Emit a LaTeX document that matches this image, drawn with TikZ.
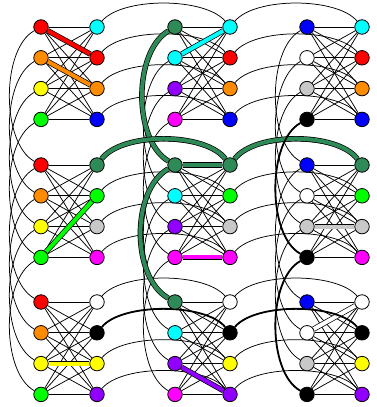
\documentclass[tikz,border=0pt]{standalone}
\pgfdeclarelayer{thinl}
\pgfdeclarelayer{thickl}
\pgfsetlayers{thinl,thickl,main}
\definecolor{dgreen}{RGB}{46,139,87}
\definecolor{myorange}{RGB}{255,140,0}
\definecolor{mypurple}{RGB}{145,0,255}
\definecolor{mygray}{RGB}{200,200,200}
\definecolor{mycyan}{RGB}{0,255,255}
\definecolor{mygreen}{RGB}{0,255,0}
\definecolor{mymagenta}{RGB}{255,0,255}
\definecolor{myred}{RGB}{255,0,0}
\definecolor{myblue}{RGB}{0,0,255}
\definecolor{myyellow}{RGB}{255,255,0}
\tikzset{
  vtx/.style={circle, draw=black, line width=0.8pt, minimum size=14.5pt, inner sep=0pt},
  thinedge/.style={line width=0.75pt, black},
  hl/.style={line width=0.7pt, draw=black, double=#1, double distance=4pt},
  blk/.style={line width=1.8pt, black},
}
\begin{document}
\begin{tikzpicture}[x=1pt,y=-1pt]
\useasboundingbox (0,0) rectangle (376,407);
\foreach \r/\by/\ra/\rb/\rc/\rd in {1/27/mycyan/myred/myorange/myblue, 2/165/dgreen/mygreen/mygray/mymagenta, 3/302/white/black/myyellow/mypurple}{
  \foreach \c/\lx/\rx/\la/\lb/\lc/\ld in {1/41/97/myred/myorange/myyellow/mygreen, 2/175/230/dgreen/mycyan/mypurple/mymagenta, 3/307/362/myblue/white/mygray/black}{
    \foreach \i/\cl/\cr in {1/\la/\ra, 2/\lb/\rb, 3/\lc/\rc, 4/\ld/\rd}{
      \node[vtx, fill=\cl] (L-\r-\c-\i) at (\lx, {\by+(\i-1)*30.8}) {};
      \node[vtx, fill=\cr] (R-\r-\c-\i) at (\rx, {\by+(\i-1)*30.8}) {};
    }
  }
}
\begin{pgfonlayer}{thinl}
\foreach \r in {1,2,3}{
  \foreach \c in {1,2,3}{
    \foreach \i in {1,...,4}{
      \foreach \j in {1,...,4}{
        \draw[thinedge] (L-\r-\c-\i) -- (R-\r-\c-\j);
      }
    }
  }
}
\foreach \c in {1,2,3}{
  \foreach \i in {1,...,4}{
    \draw[thinedge] (L-1-\c-\i) .. controls +(-40,22) and +(-40,-22) .. (L-2-\c-\i);
    \draw[thinedge] (L-2-\c-\i) .. controls +(-40,22) and +(-40,-22) .. (L-3-\c-\i);
  }
}
\foreach \r in {1,2,3}{
  \foreach \i in {1,...,4}{
    \draw[thinedge] (R-\r-1-\i) .. controls +(25,-30) and +(-25,-30) .. (R-\r-2-\i);
    \draw[thinedge] (R-\r-2-\i) .. controls +(25,-30) and +(-25,-30) .. (R-\r-3-\i);
  }
}
\end{pgfonlayer}
\begin{pgfonlayer}{thickl}
\draw[hl=myred] (L-1-1-1) -- (R-1-1-2);
\draw[hl=myorange] (L-1-1-2) -- (R-1-1-3);
\draw[hl=mycyan] (L-1-2-2) -- (R-1-2-1);
\draw[hl=mygreen] (L-2-1-4) -- (R-2-1-2);
\draw[hl=dgreen] (L-2-2-1) -- (R-2-2-1);
\draw[hl=mymagenta] (L-2-2-4) -- (R-2-2-4);
\draw[hl=mygray] (L-2-3-3) -- (R-2-3-3);
\draw[hl=myyellow] (L-3-1-3) -- (R-3-1-3);
\draw[hl=mypurple] (L-3-2-3) -- (R-3-2-4);
\draw[hl=white] (L-3-3-2) -- (R-3-3-1);
\draw[hl=dgreen] (L-1-2-1) .. controls +(-42,25) and +(-42,-25) .. (L-2-2-1);
\draw[hl=dgreen] (L-2-2-1) .. controls +(-44,25) and +(-44,-25) .. (L-3-2-1);
\draw[hl=dgreen] (R-2-1-1) .. controls +(25,-33) and +(-25,-33) .. (R-2-2-1);
\draw[hl=dgreen] (R-2-2-1) .. controls +(25,-33) and +(-25,-33) .. (R-2-3-1);
\draw[blk] (R-3-1-2) .. controls +(25,-30) and +(-25,-30) .. (R-3-2-2);
\draw[blk] (R-3-2-2) .. controls +(25,-30) and +(-25,-30) .. (R-3-3-2);
\draw[blk] (L-1-3-4) .. controls +(-40,22) and +(-40,-22) .. (L-2-3-4);
\draw[blk] (L-2-3-4) .. controls +(-40,22) and +(-40,-22) .. (L-3-3-4);
\end{pgfonlayer}
\end{tikzpicture}
\end{document}
